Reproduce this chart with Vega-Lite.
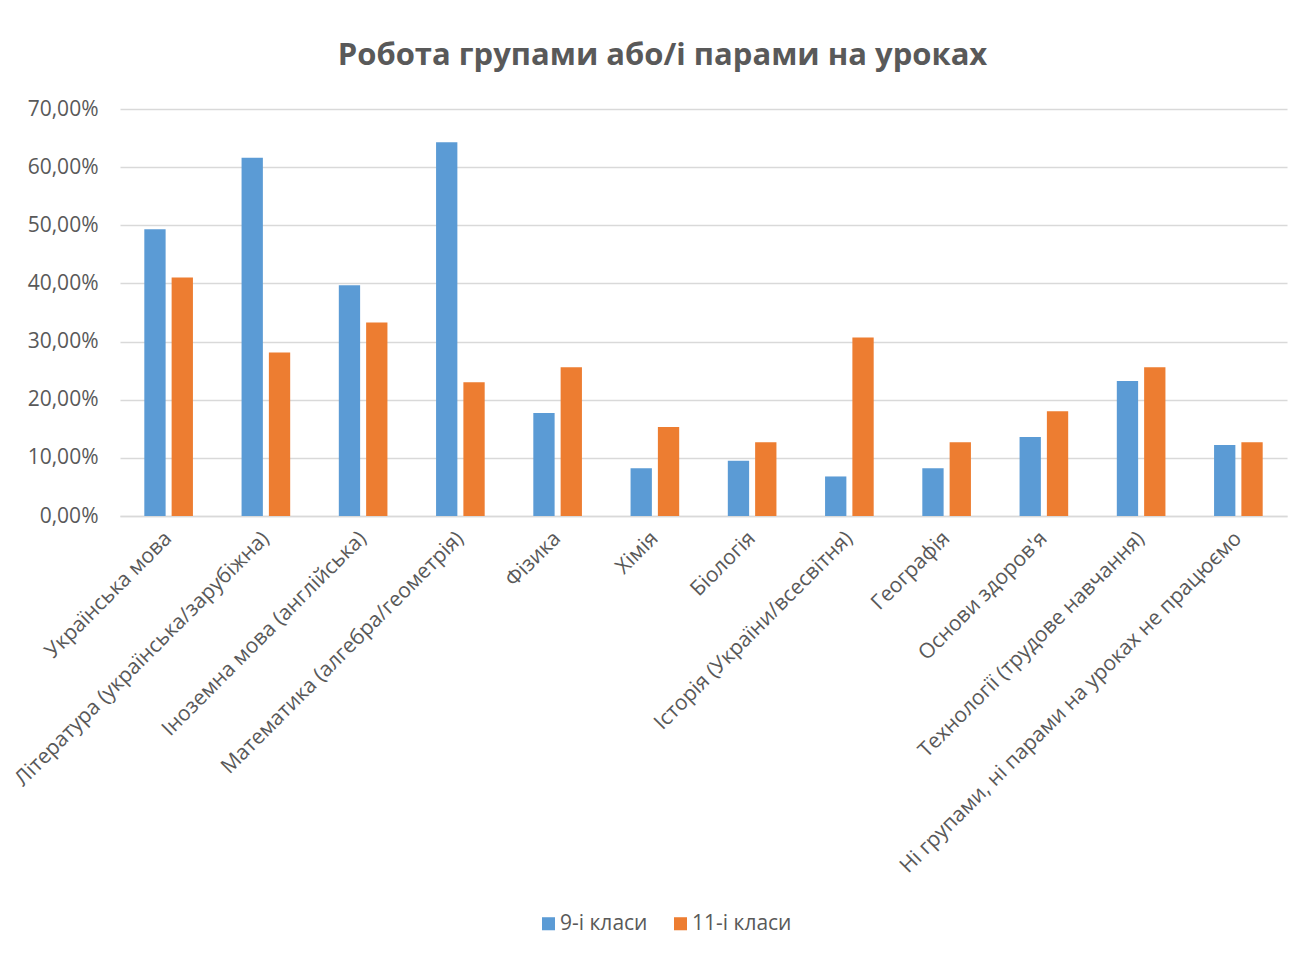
{
  "$schema": "https://vega.github.io/schema/vega-lite/v6.json",
  "autosize": "none",
  "width": 1167,
  "height": 407,
  "padding": {"left": 120, "top": 109, "right": 17, "bottom": 439},
  "background": "white",
  "title": {
    "text": "Робота групами або/і парами на уроках",
    "font": "Open Sans",
    "fontSize": 31,
    "fontWeight": "bold",
    "color": "#595959",
    "anchor": "middle",
    "dx": -41,
    "offset": 26
  },
  "data": {
    "values": [
      {"subject": "Українська мова", "group": "9-і класи", "value": 0.493},
      {"subject": "Українська мова", "group": "11-і класи", "value": 0.410},
      {"subject": "Література (українська/зарубіжна)", "group": "9-і класи", "value": 0.616},
      {"subject": "Література (українська/зарубіжна)", "group": "11-і класи", "value": 0.281},
      {"subject": "Іноземна мова (англійська)", "group": "9-і класи", "value": 0.397},
      {"subject": "Іноземна мова (англійська)", "group": "11-і класи", "value": 0.333},
      {"subject": "Математика (алгебра/геометрія)", "group": "9-і класи", "value": 0.643},
      {"subject": "Математика (алгебра/геометрія)", "group": "11-і класи", "value": 0.230},
      {"subject": "Фізика", "group": "9-і класи", "value": 0.177},
      {"subject": "Фізика", "group": "11-і класи", "value": 0.256},
      {"subject": "Хімія", "group": "9-і класи", "value": 0.082},
      {"subject": "Хімія", "group": "11-і класи", "value": 0.153},
      {"subject": "Біологія", "group": "9-і класи", "value": 0.095},
      {"subject": "Біологія", "group": "11-і класи", "value": 0.127},
      {"subject": "Історія (України/всесвітня)", "group": "9-і класи", "value": 0.068},
      {"subject": "Історія (України/всесвітня)", "group": "11-і класи", "value": 0.307},
      {"subject": "Географія", "group": "9-і класи", "value": 0.082},
      {"subject": "Географія", "group": "11-і класи", "value": 0.127},
      {"subject": "Основи здоров'я", "group": "9-і класи", "value": 0.136},
      {"subject": "Основи здоров'я", "group": "11-і класи", "value": 0.180},
      {"subject": "Технології (трудове навчання)", "group": "9-і класи", "value": 0.232},
      {"subject": "Технології (трудове навчання)", "group": "11-і класи", "value": 0.256},
      {"subject": "Ні групами, ні парами на уроках не працюємо", "group": "9-і класи", "value": 0.122},
      {"subject": "Ні групами, ні парами на уроках не працюємо", "group": "11-і класи", "value": 0.127}
    ]
  },
  "mark": {"type": "bar"},
  "encoding": {
    "x": {
      "field": "subject",
      "type": "nominal",
      "sort": null,
      "title": null,
      "scale": {"paddingInner": 0.5, "paddingOuter": 0.25},
      "axis": {
        "labelAngle": -45,
        "labelAlign": "right",
        "labelBaseline": "middle",
        "labelFont": "Open Sans",
        "labelFontSize": 21,
        "labelColor": "#595959",
        "labelPadding": 19,
        "labelLimit": 0,
        "ticks": false,
        "domainColor": "#d9d9d9",
        "domainWidth": 1.5,
        "grid": false
      }
    },
    "xOffset": {
      "field": "group",
      "type": "nominal",
      "sort": ["9-і класи", "11-і класи"],
      "scale": {"paddingInner": 0.22, "paddingOuter": 0}
    },
    "y": {
      "field": "value",
      "type": "quantitative",
      "title": null,
      "scale": {"domain": [0, 0.7], "nice": false},
      "axis": {
        "values": [0, 0.1, 0.2, 0.3, 0.4, 0.5, 0.6, 0.7],
        "labelExpr": "replace(format(datum.value, '.2%'), '.', ',')",
        "labelFont": "Open Sans",
        "labelFontSize": 21,
        "labelColor": "#595959",
        "labelPadding": 22,
        "domain": false,
        "ticks": false,
        "gridColor": "#d9d9d9",
        "gridWidth": 1.5
      }
    },
    "color": {
      "field": "group",
      "type": "nominal",
      "sort": ["9-і класи", "11-і класи"],
      "scale": {"domain": ["9-і класи", "11-і класи"], "range": ["#5b9bd5", "#ed7d31"]},
      "legend": {
        "title": null,
        "orient": "none",
        "direction": "horizontal",
        "legendX": 418,
        "legendY": 804,
        "symbolType": "square",
        "symbolSize": 170,
        "symbolStrokeWidth": 0,
        "labelFont": "Open Sans",
        "labelFontSize": 21,
        "labelColor": "#595959",
        "labelOffset": 1,
        "columnPadding": 22
      }
    }
  },
  "config": {
    "view": {"stroke": null},
    "axis": {"labelOverlap": false}
  }
}
